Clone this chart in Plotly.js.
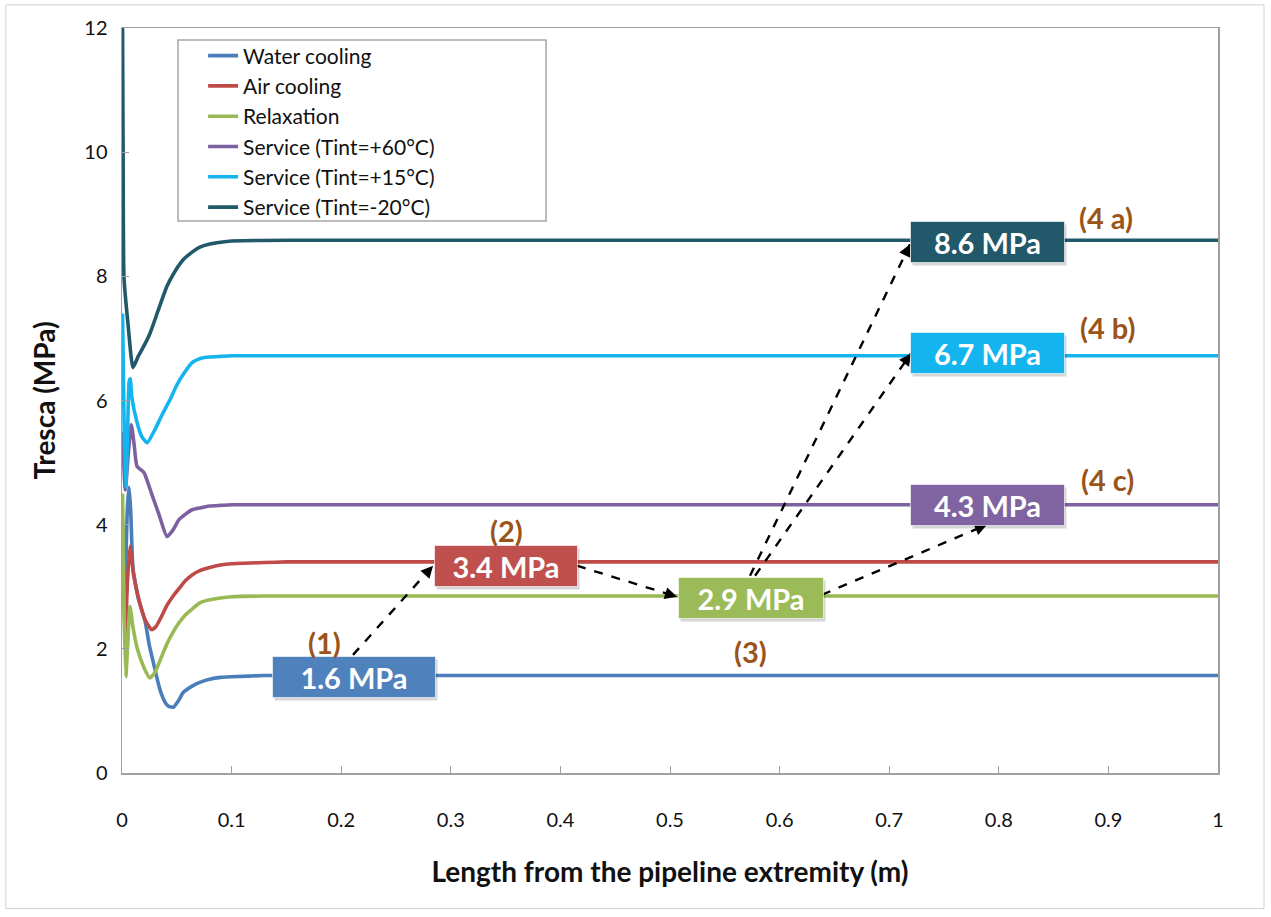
<!DOCTYPE html>
<html>
<head>
<meta charset="utf-8">
<script src="https://cdn.plot.ly/plotly-3.0.1.min.js"></script>
<style>
  html, body { margin: 0; padding: 0; background: #fff; }
  #chart { width: 1271px; height: 917px; }
</style>
</head>
<body>
<div id="chart"></div>
<script>
// ---------------- DATA ----------------
const seriesNames = ["Water cooling", "Air cooling", "Relaxation",
  "Service (Tint=+60°C)", "Service (Tint=+15°C)", "Service (Tint=-20°C)"];

const plateauX = [0.2, 0.3, 0.4, 0.5, 0.6, 0.7, 0.8, 0.9, 1.0];

const waterX = [0.003, 0.005, 0.0065, 0.008, 0.010, 0.015, 0.021, 0.025, 0.029, 0.033, 0.036, 0.040, 0.043, 0.047, 0.051, 0.056, 0.064, 0.071, 0.080, 0.090, 0.100, 0.130, 0.150];
const waterY = [3.0, 4.3, 4.6, 4.2, 3.3, 2.8, 2.45, 2.05, 1.75, 1.45, 1.27, 1.12, 1.07, 1.06, 1.15, 1.30, 1.40, 1.46, 1.51, 1.54, 1.55, 1.57, 1.57];
const waterPlateau = [1.57, 1.57, 1.57, 1.57, 1.57, 1.57, 1.57, 1.57, 1.57];

const airX = [0.0005, 0.003, 0.005, 0.0073, 0.0105, 0.0155, 0.021, 0.027, 0.031, 0.036, 0.041, 0.047, 0.052, 0.058, 0.064, 0.071, 0.080, 0.090, 0.100, 0.130, 0.150];
const airY = [4.0, 2.2, 3.1, 3.65, 3.2, 2.79, 2.47, 2.31, 2.36, 2.52, 2.70, 2.86, 2.97, 3.10, 3.19, 3.26, 3.31, 3.35, 3.37, 3.39, 3.40];
const airPlateau = [3.40, 3.40, 3.40, 3.40, 3.40, 3.40, 3.40, 3.40, 3.40];

const relaxX = [0.0005, 0.002, 0.0035, 0.005, 0.0073, 0.010, 0.014, 0.020, 0.0255, 0.030, 0.036, 0.041, 0.047, 0.052, 0.058, 0.064, 0.071, 0.080, 0.090, 0.100, 0.130, 0.150];
const relaxY = [4.5, 2.5, 1.55, 2.0, 2.68, 2.35, 2.0, 1.70, 1.53, 1.62, 1.87, 2.08, 2.28, 2.42, 2.55, 2.64, 2.74, 2.79, 2.82, 2.84, 2.85, 2.85];
const relaxPlateau = [2.85, 2.85, 2.85, 2.85, 2.85, 2.85, 2.85, 2.85, 2.85];

const s60X = [0.0005, 0.003, 0.006, 0.0085, 0.011, 0.0137, 0.020, 0.027, 0.034, 0.041, 0.046, 0.052, 0.058, 0.064, 0.071, 0.080, 0.090, 0.100, 0.150];
const s60Y = [5.5, 4.56, 5.2, 5.61, 5.3, 4.94, 4.84, 4.50, 4.15, 3.81, 3.90, 4.08, 4.17, 4.24, 4.27, 4.30, 4.31, 4.32, 4.32];
const s60Plateau = [4.32, 4.32, 4.32, 4.32, 4.32, 4.32, 4.32, 4.32, 4.32];

const s15X = [0.0005, 0.002, 0.0035, 0.005, 0.0065, 0.0075, 0.009, 0.0137, 0.018, 0.023, 0.030, 0.036, 0.044, 0.050, 0.057, 0.064, 0.072, 0.080, 0.090, 0.100, 0.150];
const s15Y = [7.4, 5.5, 4.6, 5.4, 6.3, 6.35, 6.05, 5.65, 5.42, 5.32, 5.53, 5.75, 6.02, 6.25, 6.45, 6.61, 6.68, 6.70, 6.71, 6.72, 6.72];
const s15Plateau = [6.72, 6.72, 6.72, 6.72, 6.72, 6.72, 6.72, 6.72, 6.72];

const sm20X = [0.0005, 0.001, 0.0018, 0.0055, 0.010, 0.015, 0.020, 0.0255, 0.033, 0.041, 0.048, 0.056, 0.064, 0.071, 0.080, 0.090, 0.100, 0.150];
const sm20Y = [12.0, 10.0, 7.98, 7.23, 6.53, 6.72, 6.88, 7.08, 7.45, 7.84, 8.07, 8.27, 8.39, 8.47, 8.52, 8.55, 8.57, 8.58];
const sm20Plateau = [8.58, 8.58, 8.58, 8.58, 8.58, 8.58, 8.58, 8.58, 8.58];

const xTickVals = [0, 0.1, 0.2, 0.3, 0.4, 0.5, 0.6, 0.7, 0.8, 0.9, 1];
const xTickText = ["0", "0.1", "0.2", "0.3", "0.4", "0.5", "0.6", "0.7", "0.8", "0.9", "1"];
const yTickVals = [0, 2, 4, 6, 8, 10, 12];
const yTickText = ["0", "2", "4", "6", "8", "10", "12"];

// value boxes
const boxTexts = ["1.6 MPa", "3.4 MPa", "2.9 MPa", "8.6 MPa", "6.7 MPa", "4.3 MPa"];
const stepLabels = ["(1)", "(2)", "(3)", "(4 a)", "(4 b)", "(4 c)"];

// ---------------- STYLE ----------------
const lineColors = ["#4a7ebb", "#be4b48", "#98b954", "#7d60a0", "#14b4ee", "#22596a"];
const boxColors = ["#4f81bd", "#c0504d", "#9bbb59", "#22596a", "#14b4ee", "#8064a2"];
const boxPos = [[0.2117, 1.54, 160], [0.350, 3.33, 140], [0.574, 2.82, 142],
                [0.790, 8.56, 151], [0.790, 6.77, 151], [0.790, 4.31, 151]];
const labelPos = [[0.185, 2.11], [0.351, 3.90], [0.573, 1.95], [0.898, 8.95], [0.899, 7.17], [0.899, 4.72]];
const arrows = [
  [0.2108, 1.903, 0.2838, 3.339],
  [0.4151, 3.339, 0.5064, 2.839],
  [0.5730, 3.177, 0.7190, 8.516],
  [0.5776, 3.177, 0.7199, 6.758],
  [0.6387, 2.871, 0.7892, 4.000]
];

const FONT = "Lato, 'Open Sans', sans-serif";
const brown = "#9a5418";

const xs = [waterX, airX, relaxX, s60X, s15X, sm20X];
const ys = [waterY, airY, relaxY, s60Y, s15Y, sm20Y];
const ps = [waterPlateau, airPlateau, relaxPlateau, s60Plateau, s15Plateau, sm20Plateau];

const traces = seriesNames.map((name, i) => ({
  type: "scatter", mode: "lines", name: name,
  x: xs[i].concat(plateauX), y: ys[i].concat(ps[i]),
  line: { color: lineColors[i], width: 3.6, shape: "spline", smoothing: 0.5 },
  legendgroup: "g" + i
}));

const PW = 1096, PH = 745, XR = 1, YR = 12;
const annotations = [];
const shapes = [];

// outer frame
shapes.push({ type: "rect", xref: "paper", yref: "paper", x0: -0.106, x1: 1.042, y0: -0.182, y1: 1.031,
  line: { color: "#d0d0d0", width: 1 }, fillcolor: "rgba(0,0,0,0)", layer: "below" });

// legend frame
shapes.push({ type: "rect", xref: "paper", yref: "paper", x0: 0.0511, x1: 0.3869, y0: 0.741, y1: 0.984,
  line: { color: "#a6a6a6", width: 1.5 }, fillcolor: "#ffffff", layer: "below" });

// arrows
arrows.forEach(a => {
  shapes.push({ type: "line", xref: "x", yref: "y", x0: a[0], y0: a[1], x1: a[2], y1: a[3],
    line: { color: "#000", width: 2.4, dash: "dash" } });
  const dx = (a[2] - a[0]) * PW / XR, dy = -(a[3] - a[1]) * PH / YR;
  const L = Math.hypot(dx, dy);
  annotations.push({ x: a[2], y: a[3], xref: "x", yref: "y", text: "", showarrow: true,
    ax: -dx / L * 10, ay: -dy / L * 10, arrowhead: 2, arrowsize: 1.1, arrowwidth: 2.2, arrowcolor: "#000" });
});

// boxes
boxTexts.forEach((t, i) => {
  const p = boxPos[i];
  annotations.push({ x: p[0], y: p[1], xref: "x", yref: "y", text: "", showarrow: false,
    width: p[2], height: 38, bgcolor: "rgba(0,0,0,0.16)", xshift: 2, yshift: -3 });
  annotations.push({ x: p[0], y: p[1], xref: "x", yref: "y", text: t, showarrow: false,
    width: p[2], height: 38, bgcolor: boxColors[i], bordercolor: "rgba(255,255,255,0.6)", borderwidth: 1,
    font: { family: FONT, size: 29, color: "#ffffff", weight: "bold" } });
});

// step labels
stepLabels.forEach((t, i) => {
  annotations.push({ x: labelPos[i][0], y: labelPos[i][1], xref: "x", yref: "y", text: t, showarrow: false,
    font: { family: FONT, size: 29, color: brown, weight: "bold" } });
});

const axisCommon = {
  showline: true, linecolor: "#a0a0a0", linewidth: 1.5, mirror: true,
  ticks: "inside", ticklen: 7, tickcolor: "#a0a0a0", tickwidth: 1,
  showgrid: false, zeroline: false,
  tickfont: { family: FONT, size: 20, color: "#111" }
};

const layout = {
  width: 1271, height: 917,
  margin: { l: 122, r: 53, t: 28, b: 144 },
  paper_bgcolor: "#ffffff", plot_bgcolor: "#ffffff",
  showlegend: true,
  legend: {
    x: 0.074, y: 0.990, xanchor: "left", yanchor: "top",
    bgcolor: "rgba(0,0,0,0)", borderwidth: 0,
    font: { family: FONT, size: 21, color: "#111" },
    traceorder: "normal", tracegroupgap: 0
  },
  xaxis: Object.assign({}, axisCommon, {
    range: [0, XR], tickvals: xTickVals, ticktext: xTickText, ticklabelstandoff: 28,
    title: { text: "Length from the pipeline extremity (m)", standoff: 33,
      font: { family: FONT, size: 28, color: "#111", weight: "bold" } }
  }),
  yaxis: Object.assign({}, axisCommon, {
    range: [0, YR], tickvals: yTickVals, ticktext: yTickText, ticklabelstandoff: 9,
    title: { text: "Tresca (MPa)", standoff: 20,
      font: { family: FONT, size: 28, color: "#111", weight: "bold" } }
  }),
  annotations: annotations,
  shapes: shapes
};

Plotly.newPlot("chart", traces, layout, { displayModeBar: false, staticPlot: true });
</script>
</body>
</html>
